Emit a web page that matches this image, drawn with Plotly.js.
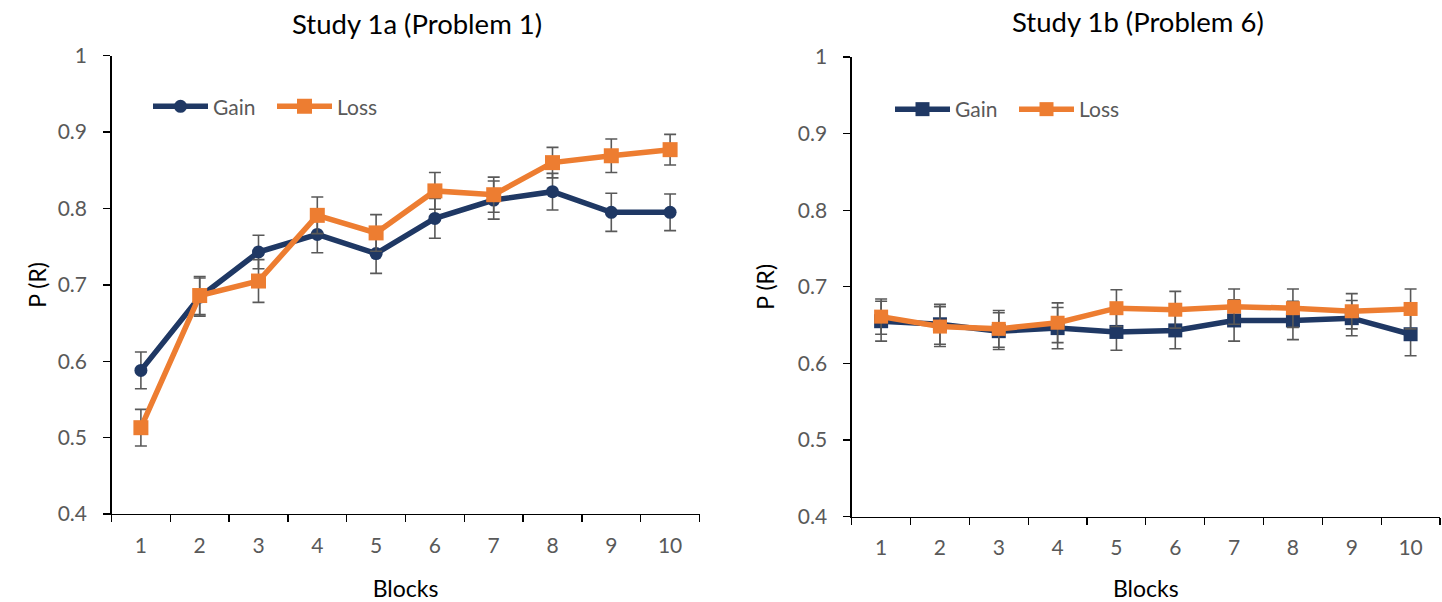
<!DOCTYPE html>
<html>
<head>
<meta charset="utf-8">
<script src="https://cdn.plot.ly/plotly-3.0.1.min.js"></script>
<style>
  html, body { margin: 0; padding: 0; background: #fff; }
  #chart { width: 1442px; height: 602px; }
</style>
</head>
<body>
<div id="chart"></div>
<script>
// ---- data ----
const blocks = ["1", "2", "3", "4", "5", "6", "7", "8", "9", "10"];

const study1aGain    = [0.588, 0.684, 0.743, 0.766, 0.741, 0.787, 0.811, 0.822, 0.795, 0.795];
const study1aGainErr = [0.024, 0.025, 0.022, 0.024, 0.026, 0.026, 0.025, 0.024, 0.025, 0.024];
const study1aLoss    = [0.513, 0.686, 0.705, 0.791, 0.768, 0.823, 0.818, 0.860, 0.869, 0.877];
const study1aLossErr = [0.024, 0.025, 0.028, 0.024, 0.024, 0.024, 0.023, 0.020, 0.022, 0.020];

const study1bGain    = [0.655, 0.651, 0.642, 0.646, 0.641, 0.643, 0.656, 0.656, 0.659, 0.638];
const study1bGainErr = [0.026, 0.026, 0.024, 0.027, 0.024, 0.024, 0.027, 0.025, 0.023, 0.028];
const study1bLoss    = [0.661, 0.648, 0.645, 0.653, 0.672, 0.670, 0.674, 0.672, 0.668, 0.671];
const study1bLossErr = [0.023, 0.026, 0.024, 0.026, 0.024, 0.024, 0.023, 0.025, 0.023, 0.026];

const seriesNames = ["Gain", "Loss"];
const titles = ["Study 1a (Problem 1)", "Study 1b (Problem 6)"];
const yTitle = "P (R)";
const xTitle = "Blocks";

// ---- styling ----
const NAVY = "#1F3864";
const ORANGE = "#ED7D31";
const ERR = "#595959";
const FONT = "Lato, 'Open Sans', sans-serif";
const W = 1442, H = 602;

function errBar(arr) {
  return { type: "data", array: arr, visible: true, color: ERR, thickness: 1.6, width: 6 };
}
function trace(x, y, e, name, color, symbol, size, xa, ya, legend) {
  return {
    type: "scatter", mode: "lines+markers", x: x, y: y, name: name,
    xaxis: xa, yaxis: ya, legend: legend,
    line: { color: color, width: 5.5 },
    marker: { color: color, symbol: symbol, size: size },
    error_y: errBar(e),
    cliponaxis: false
  };
}

const data = [
  trace(blocks, study1aGain, study1aGainErr, seriesNames[0], NAVY, "circle", 13, "x", "y", "legend"),
  trace(blocks, study1aLoss, study1aLossErr, seriesNames[1], ORANGE, "square", 15, "x", "y", "legend"),
  trace(blocks, study1bGain, study1bGainErr, seriesNames[0], NAVY, "square", 14, "x2", "y2", "legend2"),
  trace(blocks, study1bLoss, study1bLossErr, seriesNames[1], ORANGE, "square", 14, "x2", "y2", "legend2")
];

function xAxis(domain, anchor) {
  return {
    domain: domain, anchor: anchor, type: "category",
    range: [-0.5, 9.5], tickson: "boundaries",
    ticks: "outside", ticklen: 7, tickwidth: 1.3, tickcolor: "#000",
    showline: true, linecolor: "#000", linewidth: 1.3,
    showgrid: false, zeroline: false,
    tickfont: { family: FONT, size: 21, color: "#595959" },
    ticklabelstandoff: 12,
    title: { text: xTitle, font: { family: FONT, size: 23, color: "#000" }, standoff: 25 }
  };
}
function yAxis(domain, anchor, standoff) {
  return {
    domain: domain, anchor: anchor,
    range: [0.4, 1], dtick: 0.1, tick0: 0.4,
    ticks: "outside", ticklen: 7, tickwidth: 1.3, tickcolor: "#000",
    showline: true, linecolor: "#000", linewidth: 1.3,
    showgrid: false, zeroline: false,
    tickfont: { family: FONT, size: 21, color: "#595959" },
    ticklabelstandoff: 12,
    title: { text: yTitle, font: { family: FONT, size: 23, color: "#000" }, standoff: standoff }
  };
}

const legendBase = {
  orientation: "h", bgcolor: "rgba(0,0,0,0)",
  font: { family: FONT, size: 21, color: "#595959" },
  xanchor: "left", yanchor: "middle", itemwidth: 55, tracegroupgap: 0,
  entrywidth: 54
};

const layout = {
  width: W, height: H,
  margin: { l: 0, r: 0, t: 0, b: 0 },
  paper_bgcolor: "#fff", plot_bgcolor: "#fff",
  showlegend: true,
  xaxis: xAxis([111.5 / W, 699.5 / W], "y"),
  yaxis: yAxis([1 - 514 / H, 1 - 55.7 / H], "x", 4),
  xaxis2: xAxis([851.7 / W, 1440 / W], "y2"),
  yaxis2: yAxis([1 - 516.5 / H, 1 - 57 / H], "x2", 16),
  legend: Object.assign({}, legendBase, { x: 148 / W, y: 1 - 106.7 / H }),
  legend2: Object.assign({}, legendBase, { x: 890 / W, y: 1 - 109.5 / H }),
  annotations: [
    { text: titles[0], xref: "paper", yref: "paper", x: 416.7 / W, y: 1 - 23.5 / H,
      xanchor: "center", yanchor: "middle", showarrow: false,
      font: { family: FONT, size: 27.5, color: "#000" } },
    { text: titles[1], xref: "paper", yref: "paper", x: 1138.3 / W, y: 1 - 21.8 / H,
      xanchor: "center", yanchor: "middle", showarrow: false,
      font: { family: FONT, size: 27.5, color: "#000" } }
  ]
};

Plotly.newPlot("chart", data, layout, { staticPlot: true, displayModeBar: false });
</script>
</body>
</html>
